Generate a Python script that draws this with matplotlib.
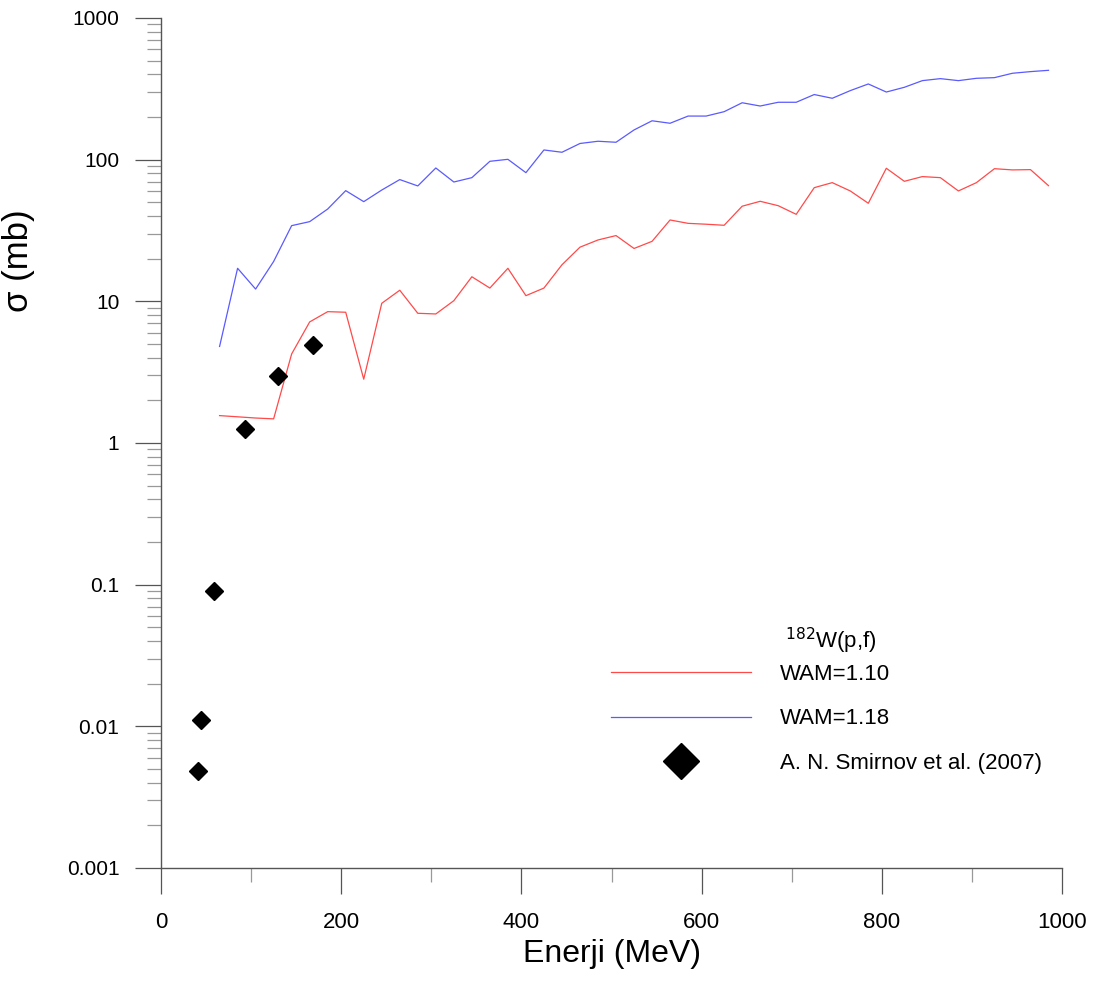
import numpy as np
import matplotlib
matplotlib.use("Agg")
import matplotlib.pyplot as plt
from matplotlib.lines import Line2D

plt.rcParams['font.family'] = ['Liberation Sans', 'DejaVu Sans']

# Enerji (MeV) - model hesaplari
enerji = [65, 85, 105, 125, 145, 165, 185, 205, 225, 245, 265, 285, 305, 325,
          345, 365, 385, 405, 425, 445, 465, 485, 505, 525, 545, 565, 585, 605,
          625, 645, 665, 685, 705, 725, 745, 765, 785, 805, 825, 845, 865, 885,
          905, 925, 945, 965, 985]

wam_110 = [1.56, 1.53, 1.50, 1.48, 4.25, 7.15, 8.45, 8.37, 2.82, 9.68, 11.97,
           8.23, 8.14, 10.1, 14.9, 12.4, 17.1, 10.96, 12.4, 18.1, 24.1, 27.1,
           29.1, 23.6, 26.5, 37.5, 35.5, 35.0, 34.4, 46.9, 50.8, 47.3, 41.1,
           63.4, 68.8, 60.1, 49.2, 86.9, 70.3, 75.9, 74.6, 60.1, 68.8, 86.3,
           84.6, 85.0, 65.5]

wam_118 = [4.8, 17.1, 12.2, 19.1, 34.2, 36.5, 44.8, 60.4, 50.5, 61.0, 72.3,
           65.2, 87.3, 69.5, 74.6, 97.3, 100.5, 80.9, 117, 112.7, 130, 134.8,
           132.6, 162, 188, 180.6, 203, 203, 218, 252, 239, 254, 254, 288, 271,
           307, 342, 300, 324, 361, 373, 361, 375, 379, 407, 418, 427]

# Deneysel veri - A. N. Smirnov et al. (2007)
exp_E = [41, 44, 59, 93, 130, 169]
exp_sigma = [0.00484, 0.0111, 0.090, 1.26, 2.97, 4.9]

fig = plt.figure(figsize=(10.96, 9.81), dpi=100)
ax = fig.add_axes([0.1469, 0.1152, 0.8221, 0.8665])

ax.plot(enerji, wam_110, color='#ff4a4a', lw=0.9)
ax.plot(enerji, wam_118, color='#5a5aff', lw=0.9)
ax.plot(exp_E, exp_sigma, 'D', color='black', ms=9, mec='black')

ax.set_yscale('log')
ax.set_xlim(0, 1000)
ax.set_ylim(0.001, 1000)
ax.set_xticks([0, 200, 400, 600, 800, 1000])
ax.set_xticks([100, 300, 500, 700, 900], minor=True)
ax.set_yticks([0.001, 0.01, 0.1, 1, 10, 100, 1000])
ax.set_yticklabels(['0.001', '0.01', '0.1', '1', '10', '100', '1000'])

for s in ['top', 'right']:
    ax.spines[s].set_visible(False)
for s in ['left', 'bottom']:
    ax.spines[s].set_color('#555555')
    ax.spines[s].set_linewidth(1.0)

ax.tick_params(axis='both', which='major', direction='out', length=19,
               width=0.9, color='#555555', labelsize=15)
ax.tick_params(axis='both', which='minor', direction='out', length=10,
               width=0.9, color='#999999')
ax.tick_params(axis='x', which='major', pad=13, labelsize=16)
ax.tick_params(axis='y', which='major', pad=11)

ax.set_xlabel('Enerji (MeV)', fontsize=23, labelpad=4)
ax.set_ylabel('σ (mb)', fontsize=25)
ax.yaxis.set_label_coords(-0.14, 0.715)

handles = [Line2D([], [], color='#ff4a4a', lw=0.9),
           Line2D([], [], color='#5a5aff', lw=0.9),
           Line2D([], [], marker='D', ls='none', color='black', ms=18)]
labels = ['WAM=1.10', 'WAM=1.18', 'A. N. Smirnov et al. (2007)']
fig.legend(handles, labels, loc='upper left', bbox_to_anchor=(0.5575, 0.323),
           frameon=False, fontsize=16, handlelength=6.3, handletextpad=1.3,
           labelspacing=1.05, borderpad=0, borderaxespad=0)
fig.text(0.716, 1 - 641 / 981, r'$^{182}$W(p,f)', fontsize=16, va='center')

plt.savefig('out.png', dpi=100)
